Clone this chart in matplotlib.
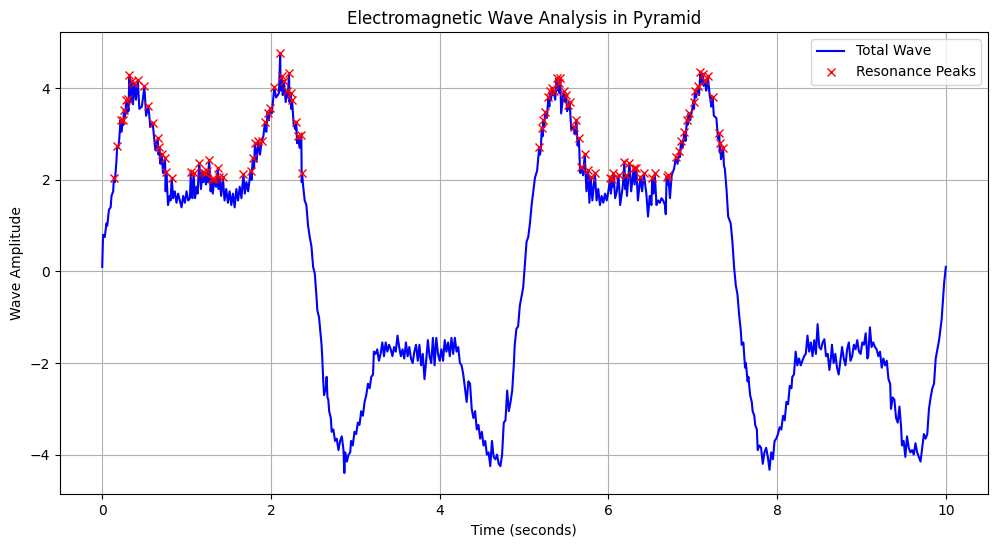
import numpy as np
import matplotlib
matplotlib.use("Agg")
import matplotlib.pyplot as plt

# Wave trace (time in s, amplitude), without the peak tips
wave_time = [
    0.00, 0.01, 0.03, 0.05, 0.06, 0.08, 0.10, 0.11, 0.13, 0.15, 0.17, 0.19, 0.20, 0.21,
    0.23, 0.25, 0.27, 0.295, 0.31, 0.335, 0.365, 0.40, 0.44, 0.47, 0.52, 0.57, 0.63,
    0.668, 0.69, 0.72, 0.752, 0.78, 0.80, 0.81, 0.84, 0.86, 0.88, 0.90, 0.92, 0.94,
    0.96, 0.98, 1.00, 1.02, 1.04, 1.06, 1.07, 1.10, 1.12, 1.13, 1.17, 1.20, 1.23, 1.25,
    1.285, 1.31, 1.35, 1.38, 1.41, 1.45, 1.47, 1.49, 1.51, 1.53, 1.55, 1.57, 1.59, 1.61,
    1.63, 1.65, 1.69, 1.71, 1.73, 1.77, 1.80, 1.83, 1.87, 1.91, 1.945, 1.975, 2.01, 2.06,
    2.08, 2.095, 2.115, 2.14, 2.175, 2.20, 2.22, 2.24, 2.27, 2.29, 2.31, 2.34, 2.365,
    2.38, 2.40, 2.42, 2.44, 2.46, 2.48, 2.50, 2.52, 2.54, 2.55, 2.57, 2.59, 2.60, 2.61,
    2.62, 2.63, 2.65, 2.66, 2.67, 2.68, 2.69, 2.71, 2.72, 2.74, 2.76, 2.78, 2.80, 2.82,
    2.84, 2.86, 2.87, 2.88, 2.90, 2.92, 2.94, 2.95, 2.97, 2.99, 3.01, 3.03, 3.05, 3.07,
    3.09, 3.11, 3.13, 3.15, 3.17, 3.19, 3.21, 3.22, 3.24, 3.26, 3.28, 3.30, 3.32, 3.34,
    3.36, 3.38, 3.40, 3.42, 3.44, 3.46, 3.48, 3.50, 3.52, 3.54, 3.56, 3.58, 3.60, 3.62,
    3.64, 3.66, 3.68, 3.70, 3.72, 3.74, 3.76, 3.78, 3.80, 3.82, 3.84, 3.86, 3.88, 3.90,
    3.92, 3.94, 3.96, 3.98, 4.00, 4.02, 4.04, 4.06, 4.08, 4.10, 4.12, 4.14, 4.16, 4.18,
    4.20, 4.22, 4.24, 4.26, 4.28, 4.30, 4.32, 4.34, 4.36, 4.38, 4.40, 4.42, 4.44, 4.46,
    4.48, 4.50, 4.52, 4.54, 4.56, 4.58, 4.60, 4.62, 4.64, 4.66, 4.68, 4.70, 4.72, 4.74,
    4.76, 4.78, 4.80, 4.82, 4.84, 4.86, 4.88, 4.89, 4.91, 4.93, 4.95, 4.97, 4.99, 5.01,
    5.03, 5.05, 5.07, 5.09, 5.11, 5.13, 5.155, 5.19, 5.20, 5.22, 5.24, 5.27, 5.30, 5.32,
    5.34, 5.37, 5.40, 5.415, 5.44, 5.485, 5.51, 5.53, 5.56, 5.60, 5.635, 5.665, 5.70,
    5.74, 5.775, 5.81, 5.86, 5.88, 5.90, 5.92, 5.94, 5.96, 5.98, 6.00, 6.03, 6.05, 6.08,
    6.10, 6.14, 6.17, 6.198, 6.22, 6.27, 6.31, 6.35, 6.40, 6.45, 6.47, 6.49, 6.51, 6.535,
    6.57, 6.59, 6.61, 6.63, 6.65, 6.67, 6.68, 6.70, 6.73, 6.75, 6.77, 6.78, 6.82, 6.85,
    6.88, 6.915, 6.94, 6.97, 6.99, 7.015, 7.04, 7.075, 7.10, 7.13, 7.16, 7.20, 7.21,
    7.22, 7.25, 7.28, 7.30, 7.32, 7.335, 7.37, 7.38, 7.40, 7.42, 7.45, 7.47, 7.49, 7.51,
    7.53, 7.55, 7.57, 7.58, 7.60, 7.62, 7.63, 7.65, 7.66, 7.68, 7.70, 7.71, 7.73, 7.74,
    7.76, 7.77, 7.79, 7.81, 7.83, 7.85, 7.87, 7.89, 7.91, 7.93, 7.95, 7.97, 7.99, 8.01,
    8.03, 8.05, 8.07, 8.09, 8.11, 8.13, 8.15, 8.17, 8.18, 8.20, 8.22, 8.24, 8.26, 8.28,
    8.30, 8.32, 8.34, 8.36, 8.38, 8.40, 8.42, 8.44, 8.46, 8.48, 8.50, 8.52, 8.54, 8.56,
    8.58, 8.60, 8.62, 8.64, 8.65, 8.67, 8.69, 8.71, 8.73, 8.75, 8.77, 8.79, 8.81, 8.83,
    8.85, 8.87, 8.89, 8.91, 8.93, 8.95, 8.97, 8.99, 9.01, 9.03, 9.05, 9.07, 9.08, 9.10,
    9.12, 9.14, 9.16, 9.18, 9.20, 9.22, 9.24, 9.26, 9.28, 9.30, 9.32, 9.34, 9.35, 9.37,
    9.39, 9.41, 9.43, 9.45, 9.47, 9.48, 9.50, 9.52, 9.54, 9.56, 9.58, 9.60, 9.62, 9.64,
    9.66, 9.68, 9.70, 9.72, 9.74, 9.76, 9.78, 9.80, 9.82, 9.84, 9.86, 9.88, 9.90, 9.92,
    9.94, 9.95, 9.97, 9.98, 10.00,
]
wave_amp = [
    0.10, 0.80, 0.75, 1.05, 1.00, 1.35, 1.40, 1.65, 1.75, 1.95, 2.45, 2.70, 2.85, 3.10,
    3.05, 3.20, 3.35, 3.45, 3.50, 3.70, 3.65, 3.75, 3.55, 3.60, 3.40, 3.15, 2.65,
    2.55, 2.35, 2.15, 1.75, 1.45, 1.65, 1.55, 1.60, 1.75, 1.50, 1.70, 1.55, 1.40,
    1.65, 1.50, 1.75, 1.55, 1.60, 1.65, 1.60, 1.60, 1.85, 1.70, 1.80, 1.95, 1.90, 1.95,
    1.75, 1.70, 1.85, 1.80, 1.65, 1.55, 1.80, 1.50, 1.75, 1.45, 1.70, 1.40, 1.80, 1.55,
    1.85, 1.60, 1.70, 1.95, 1.75, 2.00, 2.25, 2.40, 2.55, 2.95, 3.05, 3.30, 3.45, 3.80,
    3.85, 3.90, 3.95, 3.85, 3.70, 3.80, 3.70, 3.55, 3.20, 3.10, 2.80, 2.70, 1.95,
    1.90, 1.55, 1.45, 1.00, 0.75, 0.55, 0.10, -0.05, -0.55, -0.85, -1.00, -1.40, -1.60, -1.95,
    -2.40, -2.70, -2.55, -2.30, -2.75, -2.80, -3.05, -3.20, -3.50, -3.45, -3.70, -3.65, -3.90, -3.70,
    -3.60, -3.90, -4.40, -3.95, -4.15, -4.00, -3.95, -3.70, -3.80, -3.50, -3.55, -3.30, -3.35, -3.05,
    -3.15, -2.85, -2.70, -2.45, -2.55, -2.30, -2.25, -1.75, -1.80, -1.70, -1.95, -1.80, -1.55, -1.85,
    -1.55, -1.75, -1.60, -1.70, -1.85, -1.65, -1.75, -1.40, -1.65, -1.85, -1.70, -1.90, -1.55, -1.85,
    -1.65, -1.90, -2.00, -1.75, -1.60, -1.95, -1.60, -2.05, -1.80, -2.35, -1.95, -1.50, -1.85, -2.00,
    -1.45, -2.05, -1.45, -1.80, -1.95, -1.70, -1.95, -1.50, -1.75, -1.55, -1.85, -1.45, -1.80, -1.45,
    -1.75, -1.65, -2.00, -2.05, -2.25, -2.55, -2.85, -2.40, -2.45, -3.00, -3.20, -3.05, -3.45, -3.35,
    -3.65, -3.50, -3.80, -3.70, -4.00, -3.95, -4.25, -3.70, -4.05, -4.10, -4.00, -4.20, -4.25, -4.00,
    -3.30, -3.25, -2.60, -3.05, -2.85, -2.60, -2.00, -1.60, -1.25, -1.20, -0.75, -0.55, -0.35, 0.15,
    0.65, 0.75, 1.05, 1.45, 1.75, 2.05, 2.20, 2.55, 2.70, 2.95, 3.15, 3.35, 3.60, 3.75,
    3.85, 3.75, 3.95, 3.90, 3.45, 3.70, 3.50, 3.55, 3.10, 3.00, 2.75, 2.15, 2.10,
    1.75, 1.50, 1.55, 1.55, 1.80, 1.45, 1.65, 1.50, 1.70, 1.55, 1.75, 1.70, 1.85, 1.60,
    1.75, 1.45, 1.85, 1.80, 1.65, 1.75, 1.90, 1.55, 1.75, 1.70, 1.20, 1.65, 1.45, 1.70,
    1.45, 1.55, 1.50, 1.60, 1.55, 1.45, 1.25, 1.90, 1.60, 2.10, 2.20, 2.25, 2.35, 2.50,
    2.70, 2.85, 3.20, 3.30, 3.50, 3.55, 3.80, 3.85, 4.10, 4.05, 3.95, 3.85, 3.75,
    3.60, 3.40, 3.35, 2.90, 2.60, 2.45, 2.30, 2.25, 1.80, 1.20, 1.05, 0.65, 0.10, -0.30,
    -0.50, -0.95, -1.30, -1.60, -1.55, -2.10, -2.00, -2.40, -2.30, -2.70, -2.85, -3.05, -3.15, -3.35,
    -3.45, -3.90, -3.80, -3.85, -4.20, -3.95, -3.85, -4.05, -4.33, -3.95, -4.10, -3.70, -3.65, -3.55,
    -3.40, -3.45, -3.15, -3.25, -2.85, -2.90, -2.50, -2.55, -2.30, -2.25, -1.75, -2.05, -1.90, -2.05,
    -1.95, -1.85, -1.80, -1.40, -1.75, -1.55, -1.85, -1.50, -1.80, -1.15, -1.65, -1.70, -1.55, -1.48,
    -1.85, -1.80, -2.15, -1.85, -1.60, -2.00, -1.80, -2.10, -2.25, -1.95, -1.65, -1.90, -2.05, -1.70,
    -1.55, -1.95, -1.85, -1.60, -1.70, -1.50, -1.75, -1.80, -1.55, -1.60, -1.35, -1.90, -1.85, -1.22,
    -1.65, -1.55, -1.65, -1.70, -1.85, -1.75, -2.10, -1.90, -2.05, -1.95, -2.35, -2.45, -3.00, -2.75,
    -2.80, -3.20, -3.30, -2.95, -3.40, -3.80, -3.70, -4.05, -3.60, -3.85, -3.95, -3.90, -4.00, -3.75,
    -3.95, -4.05, -4.15, -3.85, -3.55, -3.65, -3.55, -3.00, -2.75, -2.55, -2.45, -1.90, -1.70, -1.50,
    -1.20, -1.05, -0.50, -0.25, 0.10,
]

# Resonance peaks (local maxima above 2)
peak_time = [
    0.138, 0.177, 0.217, 0.244, 0.256, 0.284, 0.304, 0.323, 0.35, 0.382, 0.422, 0.50,
    0.547, 0.598, 0.658, 0.678, 0.705, 0.745, 0.76, 0.824,
    1.05, 1.083, 1.15, 1.19, 1.218, 1.24, 1.268, 1.297, 1.33, 1.37, 1.39, 1.43, 1.674, 1.76,
    1.785, 1.81, 1.85, 1.89, 1.93, 1.96, 1.99, 2.04, 2.11, 2.13, 2.155, 2.19, 2.214, 2.235,
    2.25, 2.30, 2.32, 2.36, 2.37,
    5.18, 5.21, 5.23, 5.25, 5.29, 5.31, 5.33, 5.35, 5.385, 5.41, 5.43, 5.47, 5.50, 5.525,
    5.54, 5.59, 5.62, 5.65, 5.68, 5.72, 5.76, 5.79, 5.84,
    6.02, 6.045, 6.06, 6.12, 6.19, 6.205, 6.25, 6.30, 6.33, 6.38, 6.42, 6.52, 6.55, 6.69, 6.71,
    6.80, 6.84, 6.86, 6.90, 6.93, 6.95, 7.01, 7.025, 7.06, 7.09, 7.12, 7.15, 7.18, 7.235,
    7.315, 7.325, 7.36,
]
peak_amp = [
    2.05, 2.74, 3.31, 3.31, 3.53, 3.75, 3.77, 4.28, 4.15, 4.12, 4.17, 4.04,
    3.62, 3.25, 2.91, 2.71, 2.57, 2.47, 2.18, 2.05,
    2.18, 2.14, 2.37, 2.18, 2.14, 2.20, 2.43, 2.02, 2.02, 2.25, 2.07, 2.07, 2.13, 2.20,
    2.48, 2.81, 2.84, 2.85, 3.27, 3.47, 3.57, 4.02, 4.77, 4.26, 4.15, 3.95, 4.33, 3.90,
    3.75, 3.27, 2.96, 2.98, 2.14,
    2.71, 3.13, 3.30, 3.49, 3.82, 3.93, 4.01, 3.93, 4.22, 4.11, 4.22, 3.93, 3.86, 3.64,
    3.71, 3.16, 3.31, 2.91, 2.29, 2.57, 2.21, 2.07, 2.14,
    2.03, 2.02, 2.14, 2.10, 2.40, 2.10, 2.36, 2.27, 2.27, 2.07, 2.14, 2.03, 2.14, 2.07, 2.10,
    2.50, 2.64, 2.84, 3.05, 3.31, 3.46, 3.71, 3.93, 4.04, 4.35, 4.32, 4.15, 4.26, 3.82,
    3.02, 2.81, 2.69,
]

# full wave = trace plus the peak tips, sorted by time
t = np.concatenate([wave_time, peak_time])
y = np.concatenate([wave_amp, peak_amp])
order = np.argsort(t, kind="stable")
t, y = t[order], y[order]

fig = plt.figure(figsize=(9.99, 5.47), dpi=100)
ax = fig.add_axes([0.0601, 0.0969, 0.9289, 0.8446])

ax.plot(t, y, color="blue", label="Total Wave")
ax.plot(peak_time, peak_amp, "rx", label="Resonance Peaks")

ax.set_title("Electromagnetic Wave Analysis in Pyramid")
ax.set_xlabel("Time (seconds)")
ax.set_ylabel("Wave Amplitude")
ax.grid(True)
ax.legend(loc="upper right")

fig.savefig("out.png", dpi=100)
